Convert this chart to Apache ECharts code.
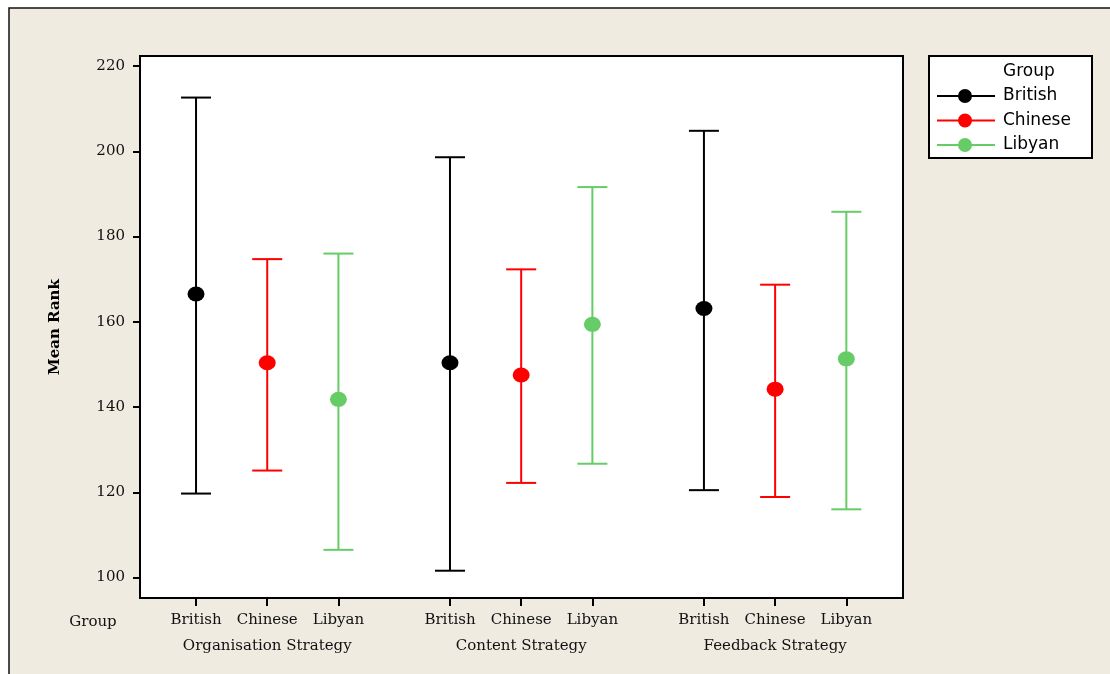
<!DOCTYPE html>
<html>
<head>
<meta charset="utf-8">
<script src="https://cdn.jsdelivr.net/npm/echarts@6/dist/echarts.min.js"></script>
<style>
html,body{margin:0;padding:0;background:#ffffff;}
#chart{width:1110px;height:674px;}
</style>
</head>
<body>
<div id="chart"></div>
<script>
// ---- data ----
var strategies = ['Organisation Strategy', 'Content Strategy', 'Feedback Strategy'];
var groupNames = ['British', 'Chinese', 'Libyan'];
var yTicks = [100, 120, 140, 160, 180, 200, 220];

var britishMean  = [166.5, 150.4, 163.1];
var britishUpper = [212.6, 198.6, 204.8];
var britishLower = [119.7, 101.6, 120.5];

var chineseMean  = [150.4, 147.5, 144.2];
var chineseUpper = [174.7, 172.3, 168.7];
var chineseLower = [125.1, 122.2, 118.9];

var libyanMean  = [141.8, 159.4, 151.3];
var libyanUpper = [176.0, 191.6, 185.8];
var libyanLower = [106.5, 126.7, 116.0];

var colors = ['#000000', '#ff0000', '#66cc66'];

// ---- layout helpers ----
var GROUP_STEP = 3.567;   // spacing between strategy clusters (in slot units)
function pos(g, i) { return g * GROUP_STEP + i; }

var series = [];
var means = [britishMean, chineseMean, libyanMean];
var uppers = [britishUpper, chineseUpper, libyanUpper];
var lowers = [britishLower, chineseLower, libyanLower];

var tickPositions = [], tickLabels = [];
for (var g = 0; g < strategies.length; g++) {
  for (var i = 0; i < groupNames.length; i++) {
    tickPositions.push(pos(g, i));
    tickLabels.push(groupNames[i]);
  }
}
var groupCenters = strategies.map(function (s, g) { return pos(g, 1); });

function nearestLabel(v, positions, labels) {
  var best = 0, bd = Infinity;
  for (var k = 0; k < positions.length; k++) {
    var d = Math.abs(positions[k] - v);
    if (d < bd) { bd = d; best = k; }
  }
  return labels[best];
}

groupNames.forEach(function (name, i) {
  var barData = strategies.map(function (s, g) { return [pos(g, i), lowers[i][g], uppers[i][g]]; });
  var meanData = strategies.map(function (s, g) { return [pos(g, i), means[i][g]]; });
  series.push({
    name: name,
    type: 'custom',
    itemStyle: { color: colors[i] },
    encode: { x: 0, y: [1, 2] },
    data: barData,
    z: 2,
    renderItem: function (params, api) {
      var x = api.value(0);
      var lo = api.coord([x, api.value(1)]);
      var hi = api.coord([x, api.value(2)]);
      var half = 15;
      var st = { stroke: colors[i], lineWidth: 2 };
      return {
        type: 'group',
        children: [
          { type: 'line', shape: { x1: lo[0], y1: lo[1], x2: hi[0], y2: hi[1] }, style: st },
          { type: 'line', shape: { x1: hi[0] - half, y1: hi[1], x2: hi[0] + half, y2: hi[1] }, style: st },
          { type: 'line', shape: { x1: lo[0] - half, y1: lo[1], x2: lo[0] + half, y2: lo[1] }, style: st }
        ]
      };
    }
  });
  series.push({
    name: name,
    type: 'scatter',
    symbol: 'circle',
    symbolSize: [17, 15],
    itemStyle: { color: colors[i], opacity: 1 },
    data: meanData,
    z: 3
  });
});

var legendIcon = 'path://M0,6 L58,6 L58,8 L0,8 Z M21,7 A7,7 0 1,1 35,7 A7,7 0 1,1 21,7 Z';

var serif = 'DejaVu Serif';
var sans = 'DejaVu Sans';

var chart = echarts.init(document.getElementById('chart'), null, { renderer: 'canvas' });
chart.setOption({
  backgroundColor: '#ffffff',
  animation: false,
  graphic: [
    { type: 'rect', z: -10, shape: { x: 9, y: 8, width: 1200, height: 800 },
      style: { fill: '#efebe1', stroke: '#111111', lineWidth: 1.5 } },
    { type: 'rect', z: 1, shape: { x: 929, y: 56, width: 163, height: 102 },
      style: { fill: '#ffffff', stroke: '#000000', lineWidth: 2 } },
    { type: 'text', z: 5, left: 1003, top: 63,
      style: { text: 'Group', font: '17px "DejaVu Sans"', fill: '#000000' } },
    { type: 'text', z: 5, x: 93, y: 622,
      style: { text: 'Group', font: '15px "DejaVu Serif"', fill: '#111111', align: 'center', verticalAlign: 'middle' } }
  ],
  legend: {
    orient: 'vertical',
    left: 937,
    top: 87,
    padding: 0,
    itemWidth: 58,
    itemHeight: 14,
    itemGap: 6.5,
    selectedMode: false,
    data: groupNames.map(function (n) { return { name: n, icon: legendIcon }; }),
    textStyle: { fontFamily: sans, fontSize: 17, color: '#000000', lineHeight: 18, padding: [0, 0, 0, 3] }
  },
  grid: {
    left: 140, top: 56, right: 207, bottom: 76,
    show: true, backgroundColor: '#ffffff', borderColor: '#000000', borderWidth: 2
  },
  xAxis: [{
    type: 'value',
    position: 'bottom',
    min: -0.787,
    max: 9.93,
    splitLine: { show: false },
    axisLine: { show: true, onZero: false, lineStyle: { color: '#000000', width: 2 } },
    axisTick: { show: true, length: 8, customValues: tickPositions, lineStyle: { color: '#000000', width: 2 } },
    axisLabel: {
      customValues: tickPositions,
      margin: 15,
      fontFamily: serif, fontSize: 15, color: '#111111',
      formatter: function (v) { return nearestLabel(v, tickPositions, tickLabels); }
    }
  }, {
    type: 'value',
    position: 'bottom',
    min: -0.787,
    max: 9.93,
    splitLine: { show: false },
    axisLine: { show: false },
    axisTick: { show: false },
    axisLabel: {
      customValues: groupCenters,
      margin: 41,
      fontFamily: serif, fontSize: 15, color: '#111111',
      formatter: function (v) { return nearestLabel(v, groupCenters, strategies); }
    }
  }],
  yAxis: {
    type: 'value',
    min: 95.2,
    max: 222.35,
    name: 'Mean Rank',
    nameLocation: 'middle',
    nameRotate: 90,
    nameGap: 77,
    nameTextStyle: { fontFamily: serif, fontSize: 15, fontWeight: 'bold', color: '#000000' },
    splitLine: { show: false },
    axisLine: { show: true, onZero: false, lineStyle: { color: '#000000', width: 2 } },
    axisTick: { show: true, length: 7, customValues: yTicks, lineStyle: { color: '#000000', width: 2 } },
    axisLabel: { customValues: yTicks, margin: 15, fontFamily: serif, fontSize: 15, color: '#111111' }
  },
  series: series
});
</script>
</body>
</html>
